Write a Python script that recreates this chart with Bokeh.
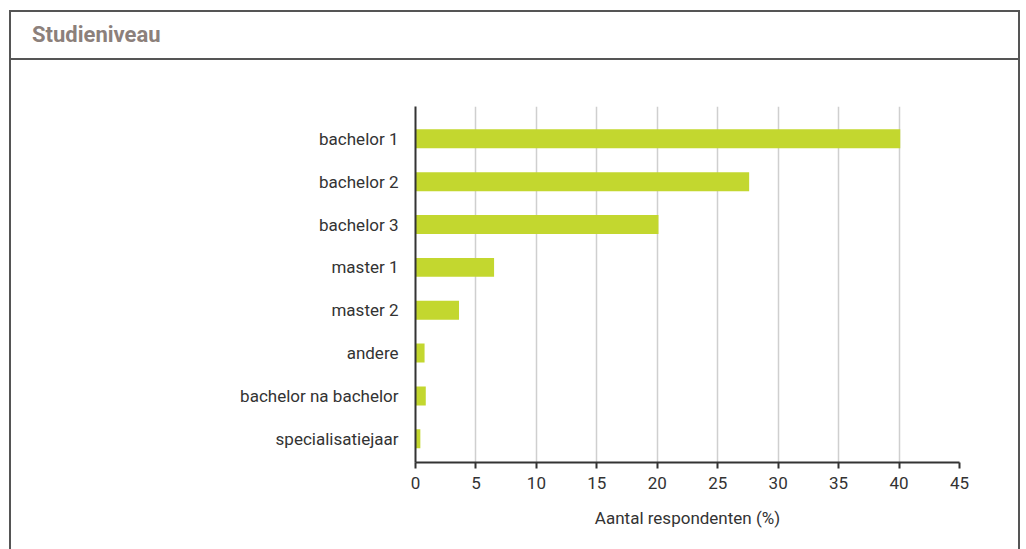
from bokeh.plotting import figure
from bokeh.models import Range1d, FixedTicker, Div, InlineStyleSheet
from bokeh.layouts import column
from bokeh.embed import file_html
from bokeh.resources import INLINE

title = "Studieniveau"
categories = ["bachelor 1", "bachelor 2", "bachelor 3", "master 1", "master 2",
              "andere", "bachelor na bachelor", "specialisatiejaar"]
values = [40.1, 27.6, 20.1, 6.5, 3.6, 0.75, 0.85, 0.4]
x_ticks = [0, 5, 10, 15, 20, 25, 30, 35, 40, 45]
x_label = "Aantal respondenten (%)"

FONT = "Roboto"
positions = list(range(len(categories)))

head = Div(text=title, width=1011, height=50, margin=(10, 0, 0, 9),
           styles={"border": "2px solid #555555", "box-sizing": "border-box",
                   "padding-left": "21px", "font-family": FONT,
                   "font-weight": "bold", "font-size": "22px",
                   "color": "#8c807b", "line-height": "46px",
                   "background": "white"})

p = figure(width=1026, height=489, output_backend="svg", toolbar_location=None,
           x_range=Range1d(0, 45), y_range=Range1d(7.553, -0.754),
           min_border_left=415, min_border_right=67, min_border_top=46,
           min_border_bottom=87, margin=(0, 0, 0, 0))
p.outline_line_color = None
p.background_fill_color = "white"
p.border_fill_color = "white"
p.stylesheets = [InlineStyleSheet(css="""
:host { position: relative; }
:host::after {
  content: "";
  position: absolute;
  left: 9px; top: -2px;
  width: 1011px; height: 600px;
  box-sizing: border-box;
  border-left: 2px solid #555555;
  border-right: 2px solid #555555;
  pointer-events: none;
}
""")]

p.hbar(y=positions, right=values, left=0, height=0.443, color="#c3d72f", line_color=None)

# axes
p.xaxis.ticker = FixedTicker(ticks=x_ticks)
p.xaxis.axis_label = x_label
p.xaxis.axis_label_text_font = FONT
p.xaxis.axis_label_text_font_size = "17px"
p.xaxis.axis_label_text_font_style = "normal"
p.xaxis.axis_label_text_color = "#333333"
p.xaxis.axis_label_standoff = 16
p.xaxis.major_label_text_font = FONT
p.xaxis.major_label_text_font_size = "17px"
p.xaxis.major_label_text_color = "#333333"
p.xaxis.major_tick_in = 0
p.xaxis.major_tick_out = 6
p.xaxis.major_tick_line_color = "#333333"
p.xaxis.major_tick_line_width = 2
p.xaxis.minor_tick_line_color = None
p.xaxis.axis_line_color = "#333333"
p.xaxis.axis_line_width = 2
p.xaxis.major_label_standoff = 8

p.yaxis.ticker = FixedTicker(ticks=positions)
p.yaxis.major_label_overrides = {i: c for i, c in zip(positions, categories)}
p.yaxis.major_label_text_font = FONT
p.yaxis.major_label_text_font_size = "17px"
p.yaxis.major_label_text_color = "#333333"
p.yaxis.major_tick_line_color = None
p.yaxis.minor_tick_line_color = None
p.yaxis.major_tick_in = 0
p.yaxis.major_tick_out = 0
p.yaxis.major_label_standoff = 17
p.yaxis.axis_line_color = "#333333"
p.yaxis.axis_line_width = 2

p.xgrid.grid_line_color = "#cfcfcf"
p.xgrid.grid_line_width = 1.5
p.ygrid.grid_line_color = None

layout = column(head, p, spacing=0)
open("out.html", "w").write(file_html(layout, INLINE))
